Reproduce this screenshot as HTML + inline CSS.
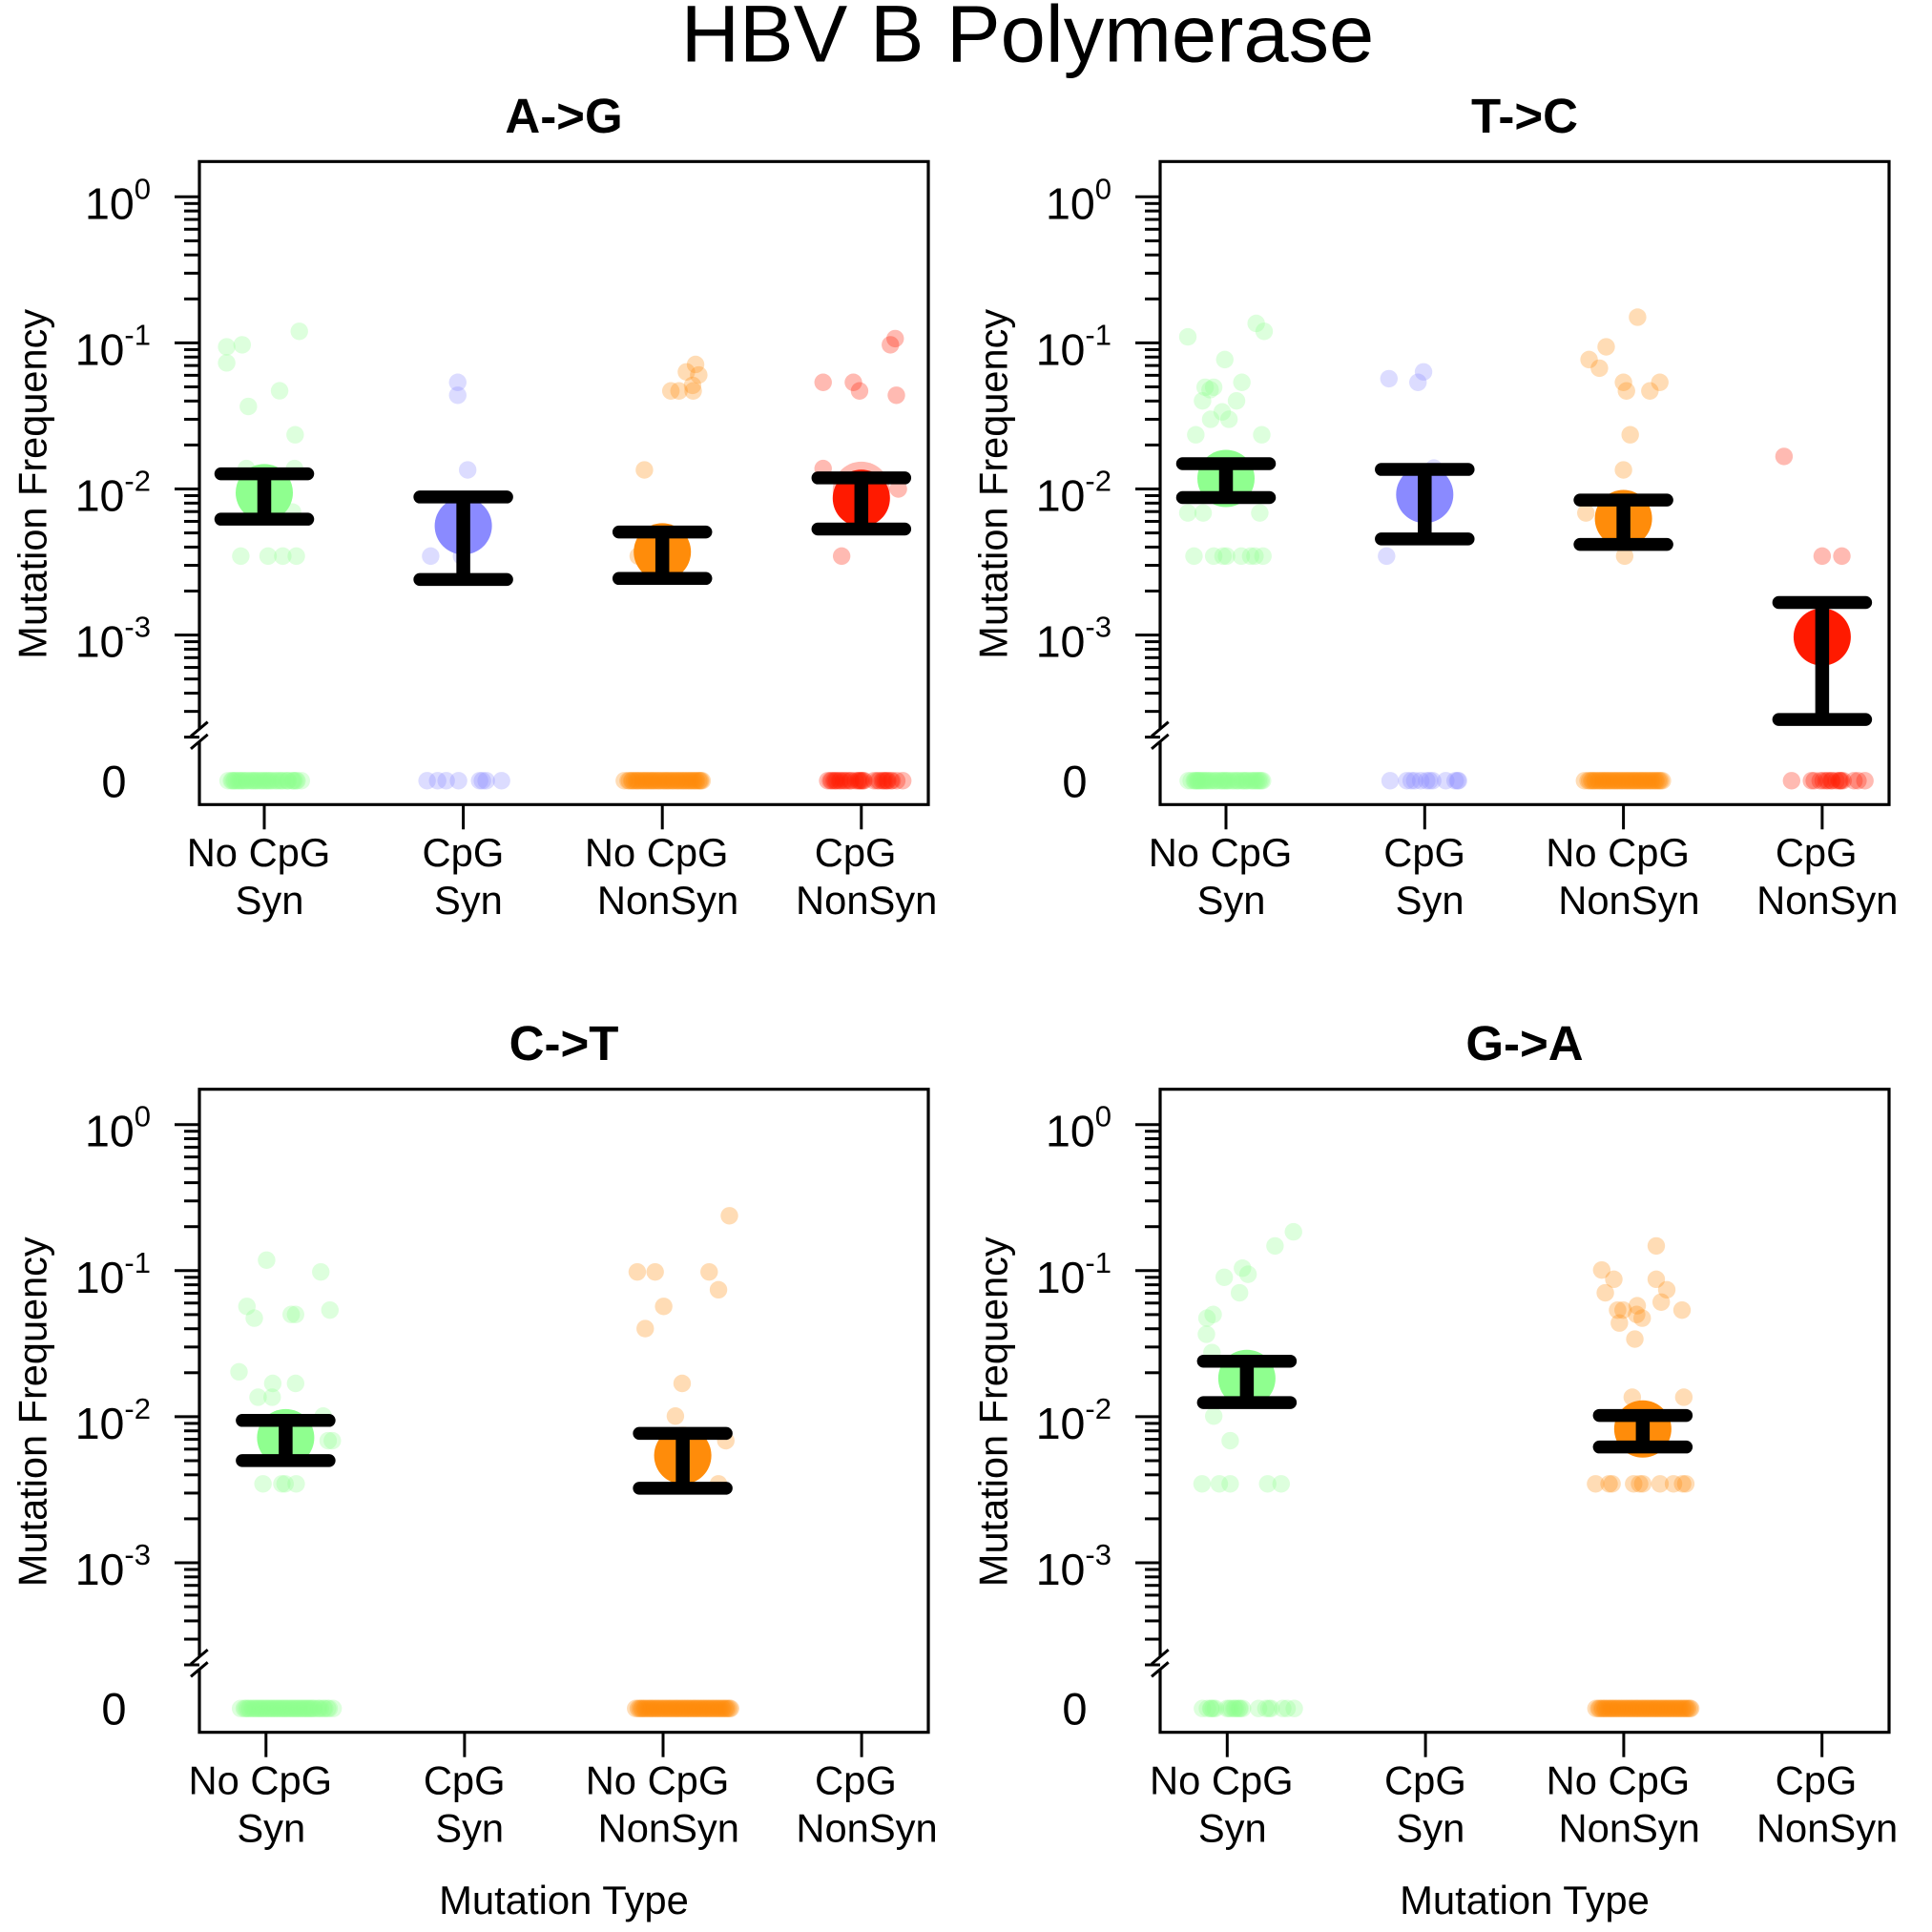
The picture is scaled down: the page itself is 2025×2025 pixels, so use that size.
<!DOCTYPE html>
<html lang="en">
<head>
<meta charset="utf-8">
<title>HBV B Polymerase</title>
<style>
html,body{margin:0;padding:0;background:#fff;}
svg{display:block;font-family:"Liberation Sans",Arial,sans-serif;}
</style>
</head>
<body>
<svg id="chart" xmlns="http://www.w3.org/2000/svg" width="2025" height="2025" viewBox="0 0 2025 2025">
<rect width="2025" height="2025" fill="#fff"/>
<text x="1077" y="64.5" font-size="84.9" text-anchor="middle" fill="#000">HBV B Polymerase</text>
</svg>
<script>
// ---- shared data ----
const categoryLine1 = ["No CpG", "CpG", "No CpG", "CpG"];
const categoryLine2 = ["Syn", "Syn", "NonSyn", "NonSyn"];
const categoryColors = ["#8fff8f", "#8a8aff", "#ff8c0a", "#ff1a00"];
const yTickExponents = [0, -1, -2, -3];
const yTickLabels = ["0", "-1", "-2", "-3"];
const minorMultipliers = [2, 3, 4, 5, 6, 7, 8, 9];

// ---- A->G ----
const agFreq = [
  [0.12,0.094,0.097,0.073,0.047,0.0367,0.0235,0.0138,0.0138,0.00695,0.00347,0.00347,0.00347,0.00347],
  [0.0537,0.0438,0.0135,0.00347,0.00347],
  [0.0712,0.0633,0.0603,0.0512,0.0469,0.0469,0.0469,0.0135,0.00347],
  [0.107,0.097,0.0537,0.0537,0.0469,0.0438,0.0138,0.01,0.00347]
];
const agJitter = [
  [0.176,-0.189,-0.111,-0.189,0.077,-0.08,0.155,-0.09,0.152,0.142,-0.118,0.019,0.093,0.161],
  [-0.028,-0.028,0.022,-0.164,-0.009],
  [0.167,0.121,0.183,0.152,0.043,0.084,0.155,-0.09,-0.121],
  [0.17,0.146,-0.192,-0.04,-0.009,0.176,-0.192,0.186,-0.099]
];
const agZeroJitter = [
  [-0.182,-0.165,-0.16,-0.152,-0.147,-0.139,-0.13,-0.123,-0.115,-0.108,-0.1,-0.09,-0.084,-0.07,-0.063,-0.055,-0.047,-0.04,-0.031,-0.02,-0.012,-0.004,0.005,0.013,0.02,0.03,0.037,0.05,0.06,0.068,0.08,0.087,0.095,0.11,0.118,0.12,0.14,0.146,0.15,0.16,0.165,0.186],
  [-0.182,-0.129,-0.086,-0.024,0.082,0.096,0.115,0.192],
  [-0.191,-0.172,-0.165,-0.154,-0.149,-0.14,-0.131,-0.125,-0.118,-0.109,-0.1,-0.094,-0.085,-0.079,-0.07,-0.062,-0.055,-0.047,-0.041,-0.032,-0.024,-0.016,-0.01,0.001,0.008,0.015,0.023,0.03,0.037,0.047,0.054,0.06,0.071,0.077,0.084,0.093,0.1,0.108,0.114,0.123,0.13,0.138,0.144,0.153,0.159,0.167,0.173,0.182,0.188,0.193,0.2],
  [-0.169,-0.155,-0.148,-0.137,-0.13,-0.122,-0.11,-0.103,-0.09,-0.082,-0.07,-0.057,-0.05,-0.03,-0.018,-0.012,-0.005,0.0,0.008,0.013,0.064,0.08,0.09,0.105,0.112,0.12,0.128,0.133,0.148,0.155,0.178,0.208]
];
const agMean = [0.00943,0.00558,0.00371,0.00864];
const agLow = [0.00621,0.0024,0.00244,0.00532];
const agHigh = [0.0127,0.00881,0.00507,0.0119];
const agHalo = [null,null,null,0.0098];
const agCentreShift = [0,0,0,0];

// ---- T->C ----
const tcFreq = [
  [0.136,0.12,0.11,0.0769,0.0537,0.0497,0.0497,0.0478,0.0401,0.0401,0.0337,0.03,0.03,0.0235,0.0235,0.00685,0.00685,0.00685,0.00347,0.00347,0.00347,0.00347,0.00347,0.00347,0.00347,0.00347],
  [0.0633,0.0569,0.0537,0.00347,0.0139],
  [0.15,0.094,0.0769,0.0671,0.0537,0.0537,0.0469,0.0469,0.0235,0.0135,0.00685,0.00347],
  [0.0167,0.00347,0.00347]
];
const tcJitter = [
  [0.152,0.192,-0.192,-0.006,0.08,-0.105,-0.062,-0.08,-0.118,0.053,-0.019,-0.077,0.015,-0.152,0.18,-0.192,-0.115,0.17,-0.161,-0.062,-0.015,0.003,0.077,0.124,0.146,0.186],
  [-0.006,-0.18,-0.034,-0.192,0.046],
  [0.071,-0.087,-0.173,-0.121,0,0.183,0.015,0.133,0.034,0,-0.189,0.006],
  [-0.192,0,0.099]
];
const tcZeroJitter = [
  [-0.19,-0.175,-0.16,-0.155,-0.15,-0.143,-0.14,-0.133,-0.127,-0.12,-0.112,-0.105,-0.098,-0.09,-0.08,-0.073,-0.06,-0.052,-0.045,-0.03,-0.023,-0.015,-0.007,0.0,0.008,0.015,0.03,0.038,0.05,0.058,0.065,0.08,0.087,0.095,0.103,0.11,0.125,0.132,0.14,0.148,0.155,0.163,0.17,0.177,0.184],
  [-0.174,-0.09,-0.068,-0.05,-0.02,0.01,0.025,0.04,0.106,0.153,0.165,0.17],
  [-0.196,-0.178,-0.17,-0.16,-0.154,-0.145,-0.139,-0.128,-0.122,-0.113,-0.105,-0.098,-0.09,-0.083,-0.074,-0.068,-0.059,-0.05,-0.044,-0.035,-0.028,-0.02,-0.011,-0.005,0.004,0.012,0.019,0.027,0.034,0.043,0.05,0.058,0.064,0.073,0.081,0.088,0.095,0.104,0.11,0.119,0.126,0.135,0.141,0.15,0.158,0.164,0.173,0.18,0.187,0.196],
  [-0.154,-0.054,-0.04,-0.01,0.005,0.02,0.03,0.045,0.05,0.07,0.085,0.09,0.095,0.105,0.16,0.18,0.215]
];
const tcMean = [0.0118,0.00916,0.00627,0.00097];
const tcLow = [0.00873,0.00455,0.00417,0.000264];
const tcHigh = [0.0149,0.0136,0.0084,0.00167];
const tcHalo = [null,null,null,null];
const tcCentreShift = [0,0,0,0];

// ---- C->T ----
const ctFreq = [
  [0.118,0.098,0.0569,0.0473,0.0501,0.0501,0.0537,0.0203,0.0169,0.0169,0.0136,0.0136,0.0101,0.00685,0.00685,0.00347,0.00347,0.00347,0.00347],
  [],
  [0.2375,0.098,0.098,0.098,0.074,0.0569,0.0401,0.0169,0.0101,0.00685,0.00347],
  []
];
const ctJitter = [
  [0.003,0.276,-0.096,-0.059,0.127,0.149,0.322,-0.136,0.034,0.149,-0.04,0.031,0.288,0.313,0.334,-0.015,0.08,0.096,0.152],
  [],
  [0.334,-0.13,-0.04,0.232,0.279,0.003,-0.09,0.096,0.062,0.316,0.279],
  []
];
const ctZeroJitter = [
  [-0.128,-0.11,-0.103,-0.095,-0.087,-0.08,-0.07,-0.063,-0.055,-0.047,-0.04,-0.032,-0.025,-0.018,-0.01,-0.002,0.005,0.013,0.02,0.028,0.035,0.043,0.05,0.058,0.065,0.073,0.08,0.088,0.095,0.102,0.11,0.118,0.125,0.133,0.14,0.148,0.155,0.163,0.17,0.178,0.185,0.193,0.2,0.208,0.215,0.223,0.23,0.238,0.245,0.26,0.267,0.275,0.29,0.296,0.31,0.318,0.338],
  [],
  [-0.138,-0.125,-0.117,-0.109,-0.103,-0.094,-0.088,-0.079,-0.071,-0.064,-0.057,-0.049,-0.042,-0.033,-0.027,-0.018,-0.011,-0.003,0.006,0.012,0.021,0.028,0.036,0.043,0.051,0.06,0.066,0.074,0.081,0.09,0.097,0.104,0.113,0.119,0.128,0.134,0.143,0.15,0.158,0.165,0.172,0.181,0.187,0.196,0.203,0.21,0.219,0.225,0.233,0.241,0.248,0.257,0.263,0.272,0.279,0.286,0.295,0.301,0.31,0.317,0.324,0.333,0.34],
  []
];
const ctMean = [0.00719,null,0.00542,null];
const ctLow = [0.00501,null,0.00324,null];
const ctHigh = [0.00943,null,0.00769,null];
const ctHalo = [null,null,null,null];
const ctCentreShift = [0.099,0,0.099,0];

// ---- G->A ----
const gaFreq = [
  [0.1845,0.1476,0.104,0.0944,0.09,0.0705,0.0501,0.0473,0.0367,0.0275,0.0101,0.00685,0.00347,0.00347,0.00347,0.00347,0.00347],
  [],
  [0.1476,0.101,0.0873,0.0873,0.074,0.0705,0.0609,0.0575,0.0537,0.0537,0.0537,0.0501,0.0473,0.0438,0.034,0.0136,0.0136,0.00347,0.00347,0.00347,0.00347,0.00347,0.00347,0.00347,0.00347,0.00347,0.00347],
  []
];
const gaJitter = [
  [0.334,0.241,0.077,0.105,-0.015,0.062,-0.071,-0.102,-0.105,-0.077,-0.068,0.015,-0.127,-0.04,0.015,0.204,0.272],
  [],
  [0.164,-0.111,-0.05,0.164,0.217,-0.093,0.189,0.068,-0.031,-0.003,0.294,0.065,0.093,-0.022,0.056,0.043,0.303,-0.142,-0.074,-0.059,0.05,0.08,0.096,0.183,0.251,0.297,0.313],
  []
];
const gaZeroJitter = [
  [-0.125,-0.1,-0.083,-0.08,-0.07,-0.06,-0.001,0.01,0.02,0.034,0.04,0.05,0.06,0.065,0.077,0.158,0.195,0.21,0.221,0.28,0.302,0.338],
  [],
  [-0.14,-0.127,-0.12,-0.11,-0.104,-0.095,-0.089,-0.08,-0.072,-0.065,-0.058,-0.05,-0.043,-0.034,-0.028,-0.019,-0.012,-0.004,0.005,0.011,0.02,0.027,0.035,0.042,0.05,0.059,0.065,0.073,0.08,0.089,0.096,0.103,0.112,0.118,0.127,0.133,0.142,0.149,0.157,0.164,0.171,0.18,0.186,0.195,0.202,0.209,0.218,0.224,0.232,0.24,0.247,0.256,0.262,0.271,0.278,0.285,0.294,0.3,0.309,0.316,0.323,0.332,0.338],
  []
];
const gaMean = [0.0183,null,0.00824,null];
const gaLow = [0.0125,null,0.0062,null];
const gaHigh = [0.024,null,0.0102,null];
const gaHalo = [null,null,null,null];
const gaCentreShift = [0.099,0,0.096,0];

// ---- layout (not data) ----
const NS = "http://www.w3.org/2000/svg";
const svg = document.getElementById("chart");
const panels = [
  {key:"a-to-g", title:"A->G", left:209, top:169.3, first:277,    step:208.6, f:agFreq, j:agJitter, z:agZeroJitter, m:agMean, lo:agLow, hi:agHigh, halo:agHalo, shift:agCentreShift, xTitle:false},
  {key:"t-to-c", title:"T->C", left:1216, top:169.3, first:1285,  step:208.3, f:tcFreq, j:tcJitter, z:tcZeroJitter, m:tcMean, lo:tcLow, hi:tcHigh, halo:tcHalo, shift:tcCentreShift, xTitle:false},
  {key:"c-to-t", title:"C->T", left:209, top:1141.7, first:278.8, step:208.1, f:ctFreq, j:ctJitter, z:ctZeroJitter, m:ctMean, lo:ctLow, hi:ctHigh, halo:ctHalo, shift:ctCentreShift, xTitle:true},
  {key:"g-to-a", title:"G->A", left:1216, top:1141.7, first:1286.3, step:207.8, f:gaFreq, j:gaJitter, z:gaZeroJitter, m:gaMean, lo:gaLow, hi:gaHigh, halo:gaHalo, shift:gaCentreShift, xTitle:true}
];
const BOX_W = 764, BOX_H = 674;
const Y0_OFFSET = 37, DECADE = 153.1, ZERO_OFFSET = 649;
const line1Shift = [-6, -0.2, -6, -6.2];
const line2Shift = [5.5, 5.3, 5.8, 5.4];

function make(tag, attrs, parent) {
  const el = document.createElementNS(NS, tag);
  for (const k in attrs) el.setAttribute(k, attrs[k]);
  (parent || svg).appendChild(el);
  return el;
}

panels.forEach(function (p) {
  const g = make("g", {});
  
  

  const yScale = function (f) { return p.top + Y0_OFFSET + (-Math.log10(f)) * DECADE; };
  const xScale = function (c, j) { return p.first + (c + j) * p.step; };
  const zeroY = p.top + ZERO_OFFSET;
  const cx = p.left + BOX_W / 2;
  const bottom = p.top + BOX_H;

  // panel title
  const title = make("text", {x: cx, y: p.top - 30.5, "font-size": 51, "font-weight": "bold", "text-anchor": "middle", fill: "#000"}, g);
  
  
  title.textContent = p.title;

  // y axis title
  const ytX = p.left - 160.5, ytY = p.top + 338;
  const yt = make("text", {x: ytX, y: ytY, "font-size": 41.5, "text-anchor": "middle", fill: "#000", transform: "rotate(-90 " + ytX + " " + ytY + ")"}, g);
  
  
  yt.textContent = "Mutation Frequency";

  // x axis title (bottom row only)
  if (p.xTitle) {
    const xt = make("text", {x: cx, y: 2006, "font-size": 41.8, "text-anchor": "middle", fill: "#000"}, g);
    
    
    xt.textContent = "Mutation Type";
  }

  // small points
  categoryColors.forEach(function (color, c) {
    p.f[c].forEach(function (f, i) {
      const pt = make("circle", {cx: xScale(c, p.j[c][i]), cy: yScale(f), r: 9.2, fill: color, "fill-opacity": 0.3}, g);
      
      
    });
    p.z[c].forEach(function (j) {
      const pz = make("circle", {cx: xScale(c, j), cy: zeroY, r: 9.2, fill: color, "fill-opacity": 0.3}, g);
      
      
    });
  });

  // mean markers
  categoryColors.forEach(function (color, c) {
    if (p.halo[c] !== null) {
      const halo = make("circle", {cx: xScale(c, p.shift[c]), cy: yScale(p.halo[c]), r: 30, fill: color, "fill-opacity": 0.3}, g);
      
      
    }
    if (p.m[c] === null) return;
    const mean = make("circle", {cx: xScale(c, p.shift[c]), cy: yScale(p.m[c]), r: 30, fill: color}, g);
    
    
  });

  // error bars
  categoryColors.forEach(function (color, c) {
    if (p.m[c] === null) return;
    const x = xScale(c, p.shift[c]);
    const yHi = yScale(p.hi[c]), yLo = yScale(p.lo[c]);
    const stem = make("line", {x1: x, x2: x, y1: yHi, y2: yLo, stroke: "#000", "stroke-width": 14.5}, g);
    
    
    const capHi = make("line", {x1: x - 45.5, x2: x + 45.5, y1: yHi, y2: yHi, stroke: "#000", "stroke-width": 13.5, "stroke-linecap": "round"}, g);
    
    
    const capLo = make("line", {x1: x - 45.5, x2: x + 45.5, y1: yLo, y2: yLo, stroke: "#000", "stroke-width": 13.5, "stroke-linecap": "round"}, g);
    
    
  });

  // box with gap at the axis break
  const gapTop = p.top + 594.7, gapBottom = p.top + 608.2;
  const box = make("path", {d: "M" + p.left + " " + gapTop + "V" + p.top + "H" + (p.left + BOX_W) + "V" + bottom + "H" + p.left + "V" + gapBottom, fill: "none", stroke: "#000", "stroke-width": 3.2, "stroke-linejoin": "miter"}, g);
  
  

  // break marks
  [0, 13.2].forEach(function (d) {
    const s = make("line", {x1: p.left - 9, y1: p.top + 602.4 + d, x2: p.left + 8.7, y2: p.top + 587.4 + d, stroke: "#000", "stroke-width": 3}, g);
    
    
  });

  // y ticks
  yTickExponents.forEach(function (e, i) {
    const y = yScale(Math.pow(10, e));
    const t = make("line", {x1: p.left - 26, x2: p.left, y1: y, y2: y, stroke: "#000", "stroke-width": 3}, g);
    
    
    const lab = make("text", {x: p.left - 51, y: y + 23, "font-size": 46.5, "text-anchor": "end", fill: "#000"}, g);
    
    
    const base = make("tspan", {}, lab);
    base.textContent = "10";
    const sup = make("tspan", {dy: -21, "font-size": 31}, lab);
    sup.textContent = yTickLabels[i];
    minorMultipliers.forEach(function (m) {
      const my = yScale(m * Math.pow(10, e - 1));
      const mt = make("line", {x1: p.left - 16, x2: p.left, y1: my, y2: my, stroke: "#000", "stroke-width": 3}, g);
      
      
    });
  });

  // zero label
  const zl = make("text", {x: p.left - 89.5, y: bottom - 8, "font-size": 47, "text-anchor": "middle", fill: "#000"}, g);
  
  
  zl.textContent = "0";

  // x ticks and labels
  categoryLine1.forEach(function (name, c) {
    const x = xScale(c, 0);
    const tk = make("line", {x1: x, x2: x, y1: bottom, y2: bottom + 26, stroke: "#000", "stroke-width": 3}, g);
    
    
    const l1 = make("text", {x: x + line1Shift[c], y: bottom + 64.7, "font-size": 41.7, "text-anchor": "middle", fill: "#000"}, g);
    
    
    l1.textContent = name;
    const l2 = make("text", {x: x + line2Shift[c], y: bottom + 114.7, "font-size": 41.7, "text-anchor": "middle", fill: "#000"}, g);
    
    
    l2.textContent = categoryLine2[c];
  });
});
</script>
</body>
</html>
